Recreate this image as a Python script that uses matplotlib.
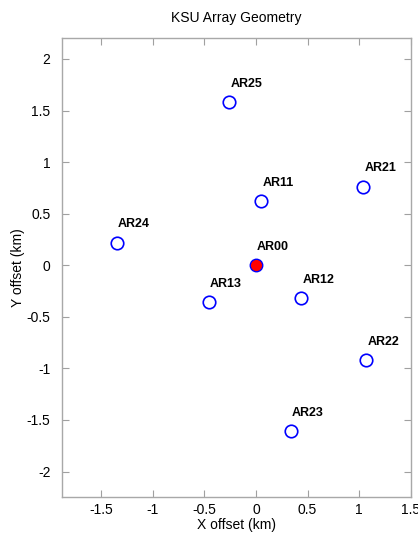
import matplotlib
matplotlib.use("Agg")
import matplotlib.pyplot as plt

names = ["AR00", "AR11", "AR12", "AR13", "AR21", "AR22", "AR23", "AR24", "AR25"]
x_km = [0.0, 0.05, 0.44, -0.46, 1.04, 1.07, 0.34, -1.35, -0.26]
y_km = [0.0, 0.62, -0.32, -0.36, 0.76, -0.92, -1.61, 0.22, 1.58]

plt.rcParams['font.family'] = ['Liberation Sans', 'DejaVu Sans']

fig = plt.figure(figsize=(4.18, 5.35), dpi=100)
ax = fig.add_axes([61.7/418, 1 - 497.3/535, (410.7-61.7)/418, (497.3-38.3)/535])

for n, x, y in zip(names, x_km, y_km):
    if n == "AR00":
        ax.plot(x, y, 'o', ms=9, mfc='red', mec='blue', mew=1.0, zorder=3)
    else:
        ax.plot(x, y, 'o', ms=9, mfc='none', mec='blue', mew=1.2, zorder=3)
    ax.text(x + 0.01, y + 0.18, n, ha='left', va='center', fontsize=9, fontweight='bold')

ax.set_xlim(-1.885, 1.5)
ax.set_ylim(-2.25, 2.2)
ax.set_xticks([-1.5, -1, -0.5, 0, 0.5, 1, 1.5])
ax.set_xticklabels(['-1.5', '-1', '-0.5', '0', '0.5', '1', '1.5'])
ax.set_yticks([-2, -1.5, -1, -0.5, 0, 0.5, 1, 1.5, 2])
ax.set_yticklabels(['-2', '-1.5', '-1', '-0.5', '0', '0.5', '1', '1.5', '2'])
ax.tick_params(direction='in', top=True, right=True, length=5, width=0.8,
               color='#a0a0a0', labelsize=10)
ax.tick_params(axis='x', pad=4)
ax.tick_params(axis='y', pad=8)
for s in ax.spines.values():
    s.set_color('#a8a8a8')
    s.set_linewidth(1.0)

ax.set_xlabel('X offset (km)', fontsize=10, labelpad=1)
ax.set_ylabel('Y offset (km)', fontsize=10, labelpad=1)
ax.set_title('KSU Array Geometry', fontsize=10, pad=12)

fig.savefig('out.png', dpi=100)
